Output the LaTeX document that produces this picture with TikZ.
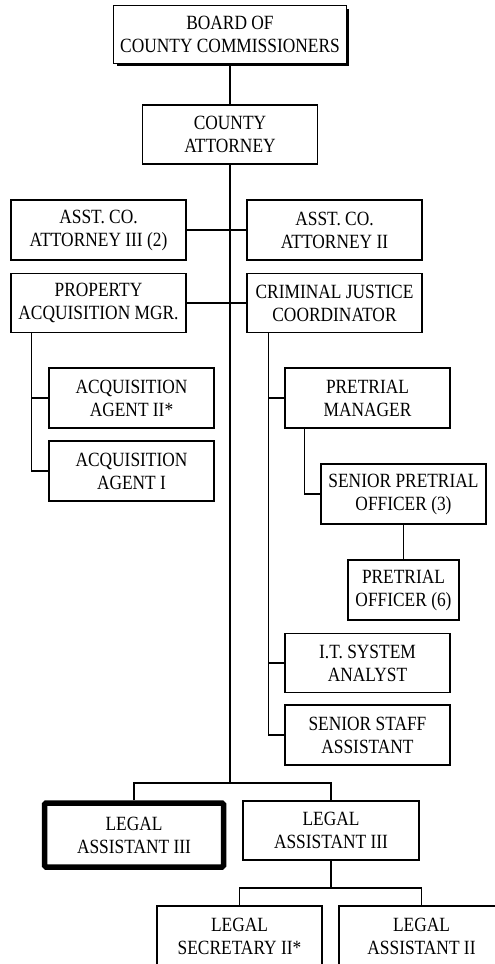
\documentclass[tikz,border=0pt]{standalone}
\usepackage{fontspec}
\setmainfont{Liberation Serif}[FakeStretch=0.86]
\begin{document}
\begin{tikzpicture}[x=1pt,y=-1pt,
  line width=1.3pt,
  box/.style={draw, fill=white, inner sep=0pt, align=center,
    font=\fontsize{20.2}{23}\selectfont},
  wide/.style={box, minimum width=175pt, minimum height=60pt},
  mid/.style={box, minimum width=165pt, minimum height=60pt},
  link/.style={draw, line width=1.3pt}]
\useasboundingbox (0,0) rectangle (495,964);
\clip (0,0) rectangle (495,964);

% top of the chart
\fill[black] (116.5,8.5) rectangle (349,66);
\node[box, minimum width=233pt, minimum height=58pt, line width=1.5pt] (board) at (230,34.25)
  {BOARD OF\\COUNTY COMMISSIONERS};
\node[box, minimum width=175pt, minimum height=59pt] (ca) at (230,134.5) {COUNTY\\ATTORNEY};

% assistant attorneys and coordinators
\node[wide] (a3)  at (98.5,230)   {ASST. CO.\\ATTORNEY III (2)};
\node[wide] (a2)  at (334.5,230)  {ASST. CO.\\ATTORNEY II};
\node[wide, minimum height=59pt] (pam) at (98.5,303) {PROPERTY\\ACQUISITION MGR.};
\node[wide, minimum height=59pt] (cjc) at (334.5,303) {CRIMINAL JUSTICE\\COORDINATOR};

% property acquisition
\node[mid] (acq2) at (131.5,398) {ACQUISITION\\AGENT II*};
\node[mid] (acq1) at (131.5,471) {ACQUISITION\\AGENT I};

% criminal justice
\node[mid] (pm)  at (367.5,398) {PRETRIAL\\MANAGER};
\node[mid] (spo) at (403.5,494) {SENIOR PRETRIAL\\OFFICER (3)};
\node[box, minimum width=111pt, minimum height=60pt] (po) at (403.5,590) {PRETRIAL\\OFFICER (6)};
\node[mid, minimum height=59pt] (it)  at (367.5,663) {I.T. SYSTEM\\ANALYST};
\node[mid] (ssa) at (367.5,735) {SENIOR STAFF\\ASSISTANT};

% legal staff
\node[box, minimum width=179pt, minimum height=64pt, line width=5.5pt, rounded corners=1.5pt]
  (la3b) at (134,835) {LEGAL\\ASSISTANT III};
\node[box, minimum width=176pt, minimum height=59pt] (la3) at (331,830.5) {LEGAL\\ASSISTANT III};
\node[mid] (ls2) at (239.5,936) {LEGAL\\SECRETARY II*};
\node[mid] (la2) at (421.5,936) {LEGAL\\ASSISTANT II};

% connectors
\coordinate (bar) at (230,783);
\coordinate (bar2) at (331,888);
\coordinate (pamdrop) at ([xshift=21pt]pam.south west);
\coordinate (cjcdrop) at ([xshift=22pt]cjc.south west);
\coordinate (pmdrop) at ([xshift=20pt]pm.south west);

\draw[link] (board.south) -- (ca.north);
\draw[link] (ca.south) -- (bar);
\draw[link] (a3.east) -- (a2.west);
\draw[link] (pam.east) -- (cjc.west);
\draw[link] (pamdrop) |- (acq1.west);
\draw[link] (acq2.west) -- (acq2.west -| pamdrop);
\draw[link] (cjcdrop) |- (ssa.west);
\draw[link] (pm.west) -- (pm.west -| cjcdrop);
\draw[link] (it.west) -- (it.west -| cjcdrop);
\draw[link] (pmdrop) |- (spo.west);
\draw[link] (spo.south) -- (po.north);
\draw[link] (la3b.north) |- (la3.north |- bar) -- (la3.north);
\draw[link] (la3.south) -- (bar2);
\draw[link] (ls2.north) |- (bar2) -| (la2.north);
\end{tikzpicture}
\end{document}
